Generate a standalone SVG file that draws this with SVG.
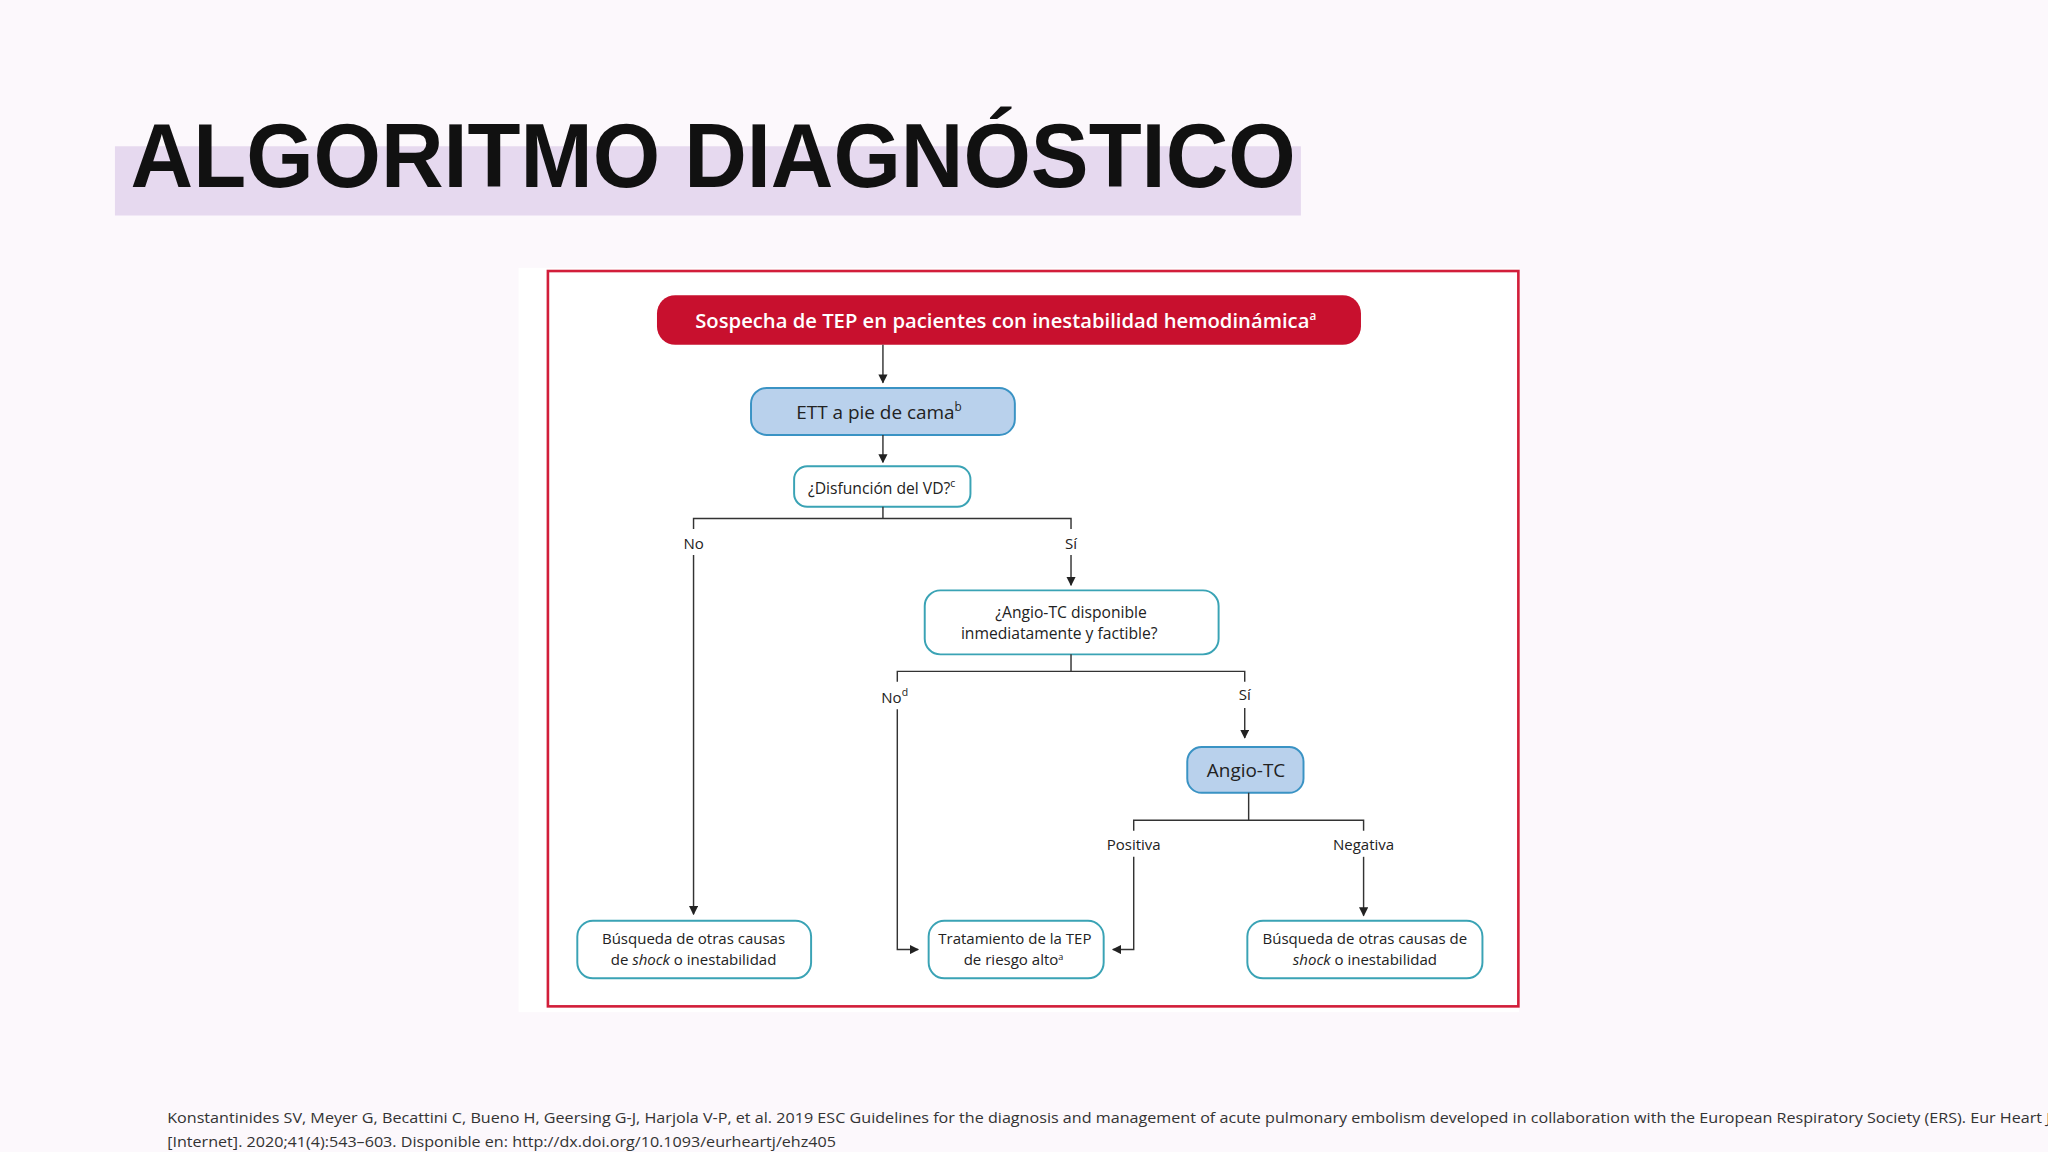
<svg xmlns="http://www.w3.org/2000/svg" width="2048" height="1152" viewBox="0 0 2048 1152">
<defs>
<marker id="ah" viewBox="0 0 10 10" refX="9" refY="5" markerWidth="7" markerHeight="7" markerUnits="userSpaceOnUse" orient="auto"><path d="M0,0 L10,5 L0,10 z" fill="#222"/></marker>
<style>
.t{font-family:"Open Sans","Liberation Sans",sans-serif;fill:#222;text-anchor:middle}
.c{fill:none;stroke:#333;stroke-width:1.1}
.a{marker-end:url(#ah)}
.w{fill:#fff;stroke:#3aa3b5;stroke-width:1.5}
.b{fill:#b9d1ec;stroke:#3a93c4;stroke-width:1.5}
</style>
</defs>
<rect width="2048" height="1152" fill="#fcf8fc"/>
<g transform="scale(1.30612)">
<g id="title">
<rect x="88" y="112" width="908" height="53" fill="#e6d9ef"/>
<text x="100" y="143" style="font-family:'Liberation Sans',sans-serif;font-weight:900;font-size:70px;fill:#111" textLength="892" lengthAdjust="spacingAndGlyphs">ALGORITMO DIAGNÓSTICO</text>
</g>
<rect x="397" y="205" width="766" height="570" fill="#fff"/>
<rect x="419.5" y="207.5" width="743" height="563" fill="none" stroke="#d21e3a" stroke-width="2"/>
<g id="n1"><rect x="503" y="226" width="539" height="38" rx="14" fill="#c8102e"/>
<text class="t" x="770" y="251" style="fill:#fff;font-weight:600;font-size:15.5px">Sospecha de TEP en pacientes con inestabilidad hemodinámica<tspan font-size="9" dy="-6">a</tspan></text></g>
<g id="n2"><rect class="b" x="575" y="297" width="202" height="36" rx="12"/>
<text class="t" x="673" y="321" style="font-size:14.5px">ETT a pie de cama<tspan font-size="9" dy="-6">b</tspan></text></g>
<g id="n3"><rect class="w" x="608" y="357" width="135" height="31" rx="10"/>
<text class="t" x="675" y="378" style="font-size:12px">¿Disfunción del VD?<tspan font-size="8" dy="-5">c</tspan></text></g>
<g id="n4"><rect class="w" x="708" y="452" width="225" height="49" rx="12"/>
<text class="t" x="820" y="473" style="font-size:12px">¿Angio-TC disponible</text>
<text class="t" x="811" y="489" style="font-size:12px">inmediatamente y factible?</text></g>
<g id="n5"><rect class="b" x="909" y="572" width="89" height="35" rx="11"/>
<text class="t" x="954" y="595" style="font-size:14.5px">Angio-TC</text></g>
<g id="n6"><rect class="w" x="442" y="705" width="179" height="44" rx="12"/>
<text class="t" x="531" y="723" style="font-size:11.5px">Búsqueda de otras causas</text>
<text class="t" x="531" y="739" style="font-size:11.5px">de <tspan font-style="italic">shock</tspan> o inestabilidad</text></g>
<g id="n7"><rect class="w" x="711" y="705" width="134" height="44" rx="12"/>
<text class="t" x="777" y="723" style="font-size:11.5px">Tratamiento de la TEP</text>
<text class="t" x="776" y="739" style="font-size:11.5px">de riesgo alto<tspan font-size="7" dy="-4">a</tspan></text></g>
<g id="n8"><rect class="w" x="955" y="705" width="180" height="44" rx="12"/>
<text class="t" x="1045" y="723" style="font-size:11.5px">Búsqueda de otras causas de</text>
<text class="t" x="1045" y="739" style="font-size:11.5px"><tspan font-style="italic">shock</tspan> o inestabilidad</text></g>
<g id="labels" class="t" style="font-size:11.5px">
<text x="531" y="420">No</text><text x="820" y="420">Sí</text>
<text x="685" y="538">No<tspan font-size="8" dy="-5">d</tspan></text><text x="953" y="536">Sí</text>
<text x="868" y="651">Positiva</text><text x="1044" y="651">Negativa</text>
</g>
<g id="connectors">
<path class="c a" d="M676,264 V293"/>
<path class="c a" d="M676,333 V354"/>
<path class="c" d="M676,388 V397 M531,405 V397 H820 V405"/>
<path class="c a" d="M531,425 V700"/>
<path class="c a" d="M820,425 V448"/>
<path class="c" d="M820,501 V514 M687,522 V514 H953 V522"/>
<path class="c a" d="M687,543 V727 H703"/>
<path class="c a" d="M953,542 V565"/>
<path class="c" d="M956,607 V628 M868,636 V628 H1044 V636"/>
<path class="c a" d="M868,656 V727 H852"/>
<path class="c a" d="M1044,656 V701"/>
</g>
<g id="citation" style="font-family:'Open Sans','Liberation Sans',sans-serif;font-size:11.5px;fill:#333">
<text x="128" y="860" textLength="1442" lengthAdjust="spacingAndGlyphs">Konstantinides SV, Meyer G, Becattini C, Bueno H, Geersing G-J, Harjola V-P, et al. 2019 ESC Guidelines for the diagnosis and management of acute pulmonary embolism developed in collaboration with the European Respiratory Society (ERS). Eur Heart J</text>
<text x="128" y="878" textLength="512" lengthAdjust="spacingAndGlyphs">[Internet]. 2020;41(4):543–603. Disponible en: http://dx.doi.org/10.1093/eurheartj/ehz405</text>
</g>
</g>
</svg>
